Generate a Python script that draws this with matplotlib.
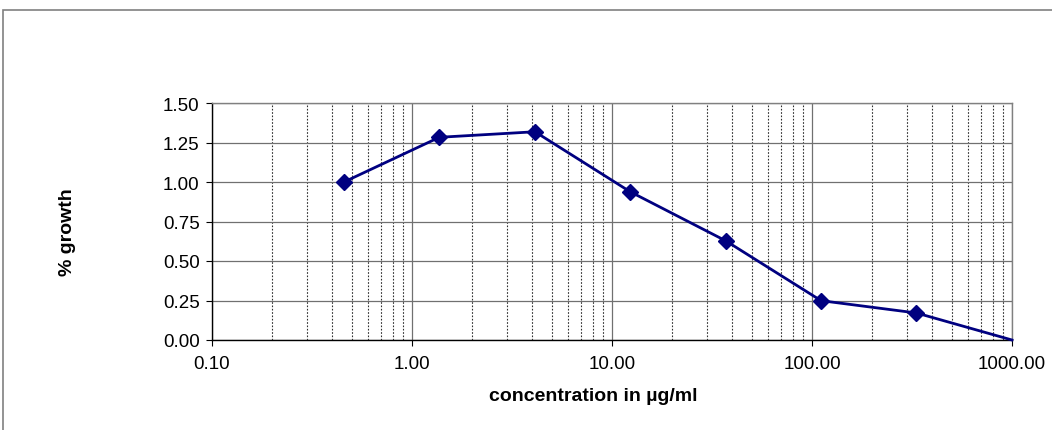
import numpy as np
import matplotlib.pyplot as plt
from matplotlib.patches import Rectangle
from matplotlib.ticker import FixedLocator, FuncFormatter, LogLocator, NullFormatter

plt.rcParams['font.family'] = ['Liberation Sans', 'DejaVu Sans']

# Datos
concentration = [0.457, 1.37, 4.12, 12.3, 37.0, 111.0, 333.0, 1000.0]
growth = [1.00, 1.283, 1.318, 0.939, 0.628, 0.249, 0.171, 0.0]
y_ticks = [0.0, 0.25, 0.5, 0.75, 1.0, 1.25, 1.5]
x_ticks = [0.1, 1, 10, 100, 1000]

fig = plt.figure(figsize=(10.52, 4.31), dpi=100)
ax = fig.add_axes([212 / 1052, 1 - 341 / 431, 800 / 1052, 237 / 431])

# Marco exterior gris
fig.patches.append(Rectangle((3 / 1052, -0.05), 1.2, 1.05 - 11 / 431,
                             transform=fig.transFigure, fill=False,
                             edgecolor='#808080', lw=1.2))

ax.set_xscale('log')
ax.set_xlim(0.1, 1000)
ax.set_ylim(0, 1.5)

# Rejilla
ax.xaxis.set_major_locator(FixedLocator(x_ticks))
ax.xaxis.set_minor_locator(LogLocator(base=10, subs=np.arange(2, 10)))
ax.xaxis.set_minor_formatter(NullFormatter())
ax.xaxis.set_major_formatter(FuncFormatter(lambda v, p: f"{v:.2f}"))
ax.set_yticks(y_ticks)
ax.yaxis.set_major_formatter(FuncFormatter(lambda v, p: f"{v:.2f}"))

ax.grid(True, which='major', axis='both', color='#707070', lw=0.9, ls='-')
ax.grid(True, which='minor', axis='x', color='#303030', lw=0.8, ls=(0, (1.5, 1.5)))
ax.set_axisbelow(True)

for side in ['top', 'right']:
    ax.spines[side].set_color('#808080')
    ax.spines[side].set_linewidth(1.0)
for side in ['left', 'bottom']:
    ax.spines[side].set_color('black')
    ax.spines[side].set_linewidth(1.0)

ax.tick_params(axis='both', which='major', direction='out', length=4,
               width=0.8, labelsize=13.5, colors='black')
ax.tick_params(axis='x', which='major', pad=7)
ax.tick_params(axis='y', which='major', pad=5)
ax.tick_params(axis='x', which='minor', length=0)

ax.plot(concentration, growth, color='#000080', lw=2, marker='D',
        markersize=8, markevery=list(range(len(concentration) - 1)),
        clip_on=False, zorder=5)

ax.set_xlabel('concentration in µg/ml', fontsize=14, fontweight='bold')
ax.set_ylabel('% growth', fontsize=14, fontweight='bold')
ax.xaxis.set_label_coords((593 - 212) / 800, (341 - 397) / 237)
ax.xaxis.label.set_va('center')
ax.yaxis.set_label_coords((67 - 212) / 800, (341 - 232) / 237)
ax.yaxis.label.set_va('center')

fig.savefig('out.png', dpi=100)
